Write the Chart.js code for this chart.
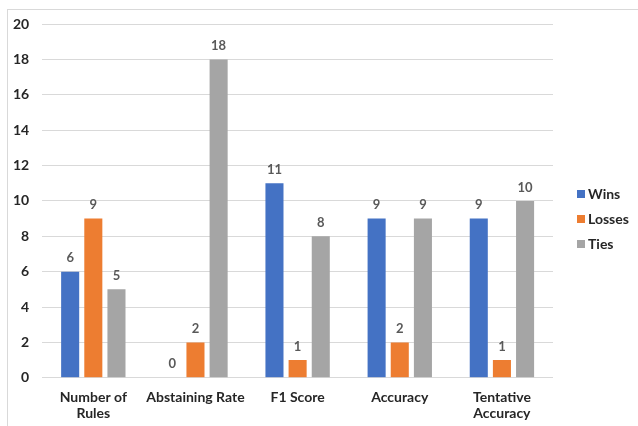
<!DOCTYPE html>
<html>
<head>
<meta charset="utf-8">
<script src="https://cdn.jsdelivr.net/npm/chart.js@4"></script>
<style>
html,body{margin:0;padding:0;background:#fff;}
#wrap{position:relative;width:638px;height:426px;overflow:hidden;}
#frame{position:absolute;left:7px;top:9px;width:700px;height:500px;border:1px solid #d9d9d9;box-sizing:border-box;}
canvas{position:absolute;left:0;top:0;}
</style>
</head>
<body>
<div id="wrap"><div id="frame"></div><canvas id="c" width="638" height="426"></canvas></div>
<script>
const categories = [["Number of","Rules"], "Abstaining Rate", "F1 Score", "Accuracy", ["Tentative","Accuracy"]];
const wins = [6, 0, 11, 9, 9];
const losses = [9, 2, 1, 2, 1];
const ties = [5, 18, 8, 9, 10];
const seriesNames = ["Wins", "Losses", "Ties"];
const colors = ["#4472C4", "#ED7D31", "#A5A5A5"];
const yMin = 0, yMax = 20, yStep = 2;

const FONT = "Lato, 'Open Sans', sans-serif";

const labelPlugin = {
  id: 'valueLabels',
  afterDatasetsDraw(chart) {
    const ctx = chart.ctx;
    ctx.save();
    ctx.font = "bold 13px " + FONT;
    ctx.fillStyle = "#595959";
    ctx.textAlign = "center";
    ctx.textBaseline = "bottom";
    chart.data.datasets.forEach((ds, i) => {
      const meta = chart.getDatasetMeta(i);
      meta.data.forEach((bar, j) => {
        ctx.fillText(String(ds.data[j]), bar.x, bar.y - 7);
      });
    });
    ctx.restore();
  }
};

const legendPlugin = {
  id: 'customLegend',
  afterDraw(chart) {
    const ctx = chart.ctx;
    const area = chart.chartArea;
    ctx.save();
    ctx.font = "bold 14px " + FONT;
    ctx.textBaseline = "middle";
    ctx.textAlign = "left";
    const x = area.right + 24;
    const y0 = 194;
    seriesNames.forEach((n, i) => {
      const y = y0 + i * 25;
      ctx.fillStyle = colors[i];
      ctx.fillRect(x, y - 4, 8, 8);
      ctx.fillStyle = "#262626";
      ctx.fillText(n, x + 11, y);
    });
    ctx.restore();
  }
};

new Chart(document.getElementById('c'), {
  type: 'bar',
  data: {
    labels: categories,
    datasets: seriesNames.map((n, i) => ({
      label: n,
      data: [wins, losses, ties][i],
      backgroundColor: colors[i],
      borderWidth: 0,
      categoryPercentage: 0.68,
      barPercentage: 0.78
    }))
  },
  options: {
    responsive: false,
    animation: false,
    devicePixelRatio: 1,
    layout: { padding: { left: 0, right: 85, top: 24, bottom: 0 } },
    plugins: { legend: { display: false }, tooltip: { enabled: false } },
    scales: {
      x: {
        grid: { display: false },
        border: { display: false },
        ticks: { font: { family: FONT, size: 14, weight: 'bold', lineHeight: 1.15 }, color: "#262626", padding: 4, maxRotation: 0, autoSkip: false }
      },
      y: {
        min: yMin, max: yMax,
        grid: { color: "#d9d9d9", drawTicks: false },
        border: { display: false },
        ticks: { stepSize: yStep, font: { family: FONT, size: 14, weight: 'bold' }, color: "#262626", padding: 13 }
      }
    }
  },
  plugins: [labelPlugin, legendPlugin]
});
</script>
</body>
</html>
